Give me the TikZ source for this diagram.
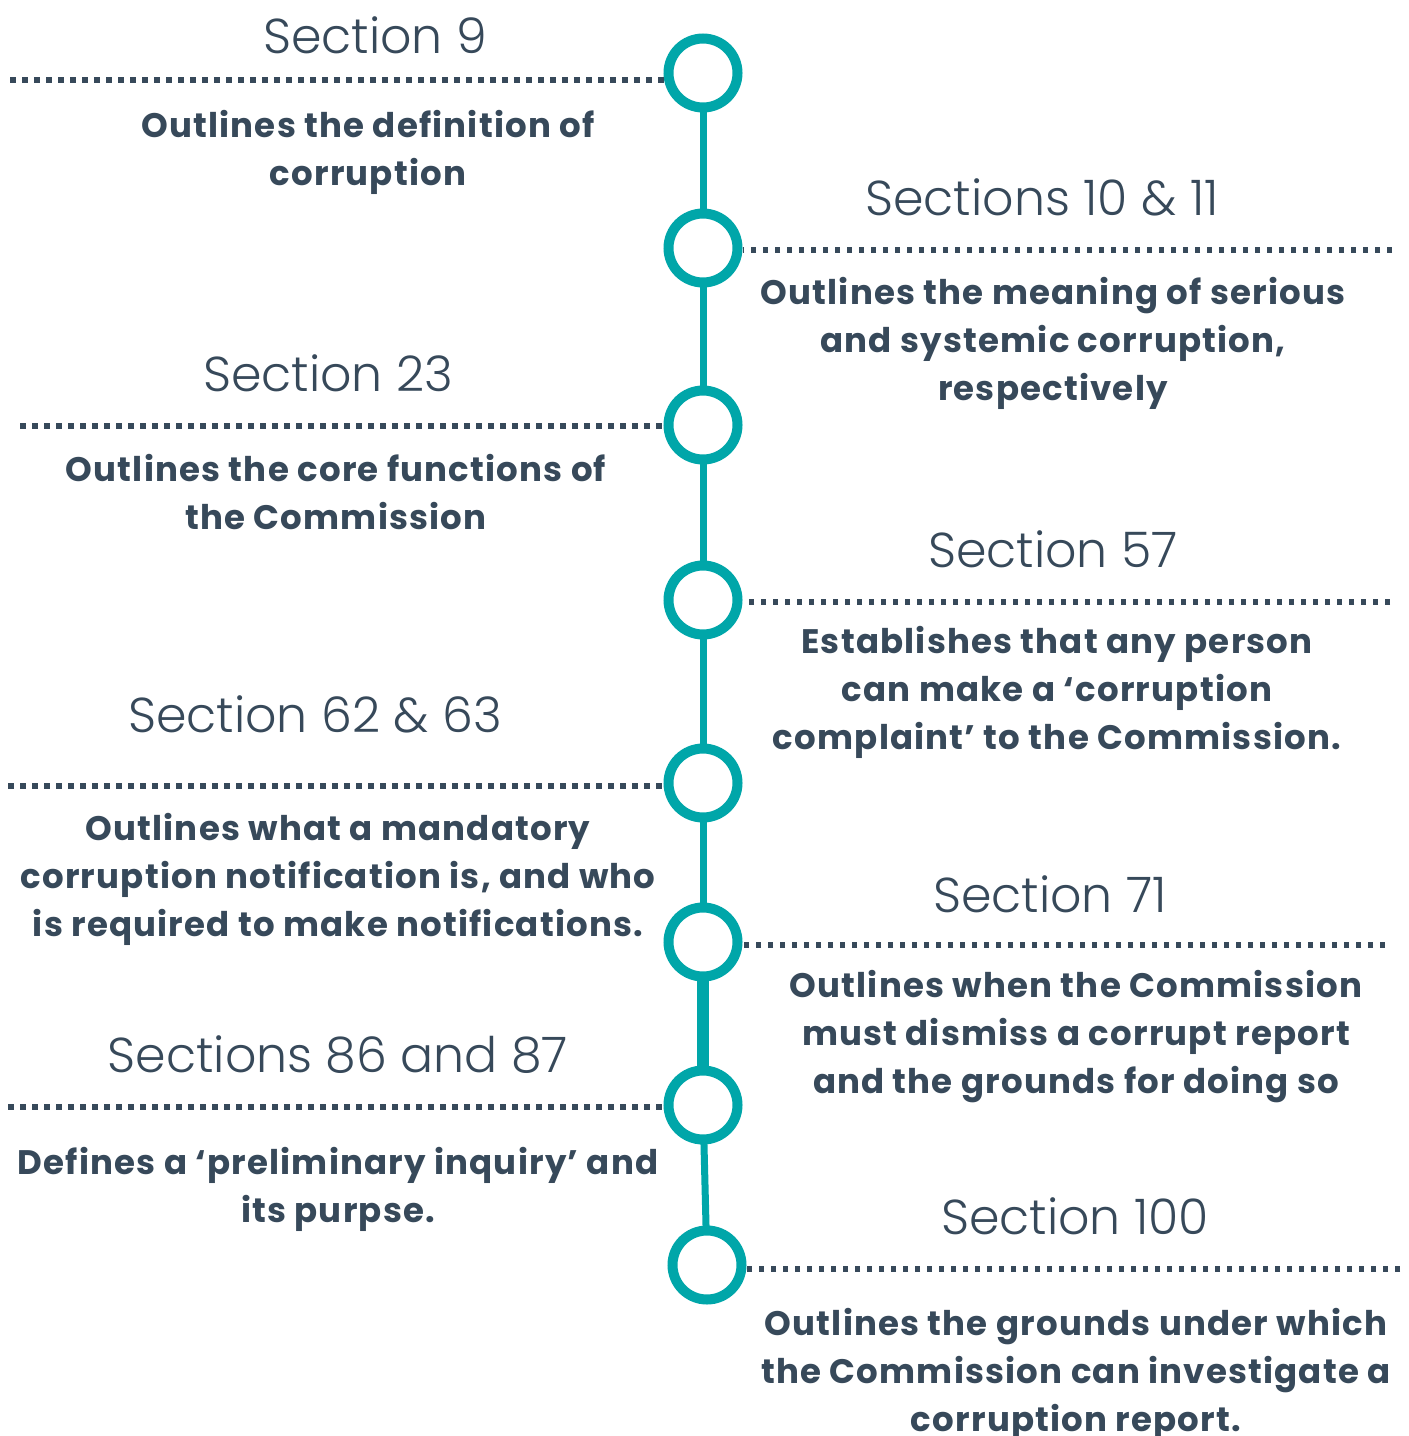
\documentclass[tikz,border=0pt]{standalone}
\usepackage{fontspec}
\setmainfont{Poppins}[LetterSpace=3.5]
\newfontfamily\headfont{Poppins}[UprightFont=* Light, LetterSpace=0]
\usetikzlibrary{calc}
\definecolor{teal}{HTML}{00A6A9}
\definecolor{ink}{HTML}{37495A}
\tikzset{
  ring/.style={circle, draw=teal, line width=10pt, fill=white, minimum size=69pt, inner sep=0pt},
  spine/.style={draw=teal, line width=7pt},
  dotline/.style={draw=ink, line width=5.5pt, dash pattern=on 5.5pt off 6.5pt},
  head/.style={text=ink, inner sep=0pt, font=\headfont\fontsize{49}{50}\selectfont},
  body/.style={text=ink, inner sep=0pt, align=center, font=\bfseries\fontsize{34}{48}\selectfont},
}
\begin{document}
\begin{tikzpicture}[x=1pt,y=-1pt]
\useasboundingbox (0,0) rectangle (1409,1436);
% spine
\coordinate (p1) at (703,73);
\coordinate (p2) at (703,248);
\coordinate (p3) at (703,425);
\coordinate (p4) at (703,600);
\coordinate (p5) at (703,783);
\coordinate (p6) at (703,942);
\coordinate (p7) at (703,1105);
\coordinate (p8) at (707,1265);
\draw[spine] (p1) -- (p2) -- (p3) -- (p4) -- (p5) -- (p6);
\draw[spine, line width=12pt] (p6) -- (p7);
\draw[spine] (p7) -- (p8);
\foreach \i in {1,...,8} { \node[ring] (c\i) at (p\i) {}; }
% dotted leaders
\coordinate (d1) at (10,80);
\coordinate (d2) at (1392,250);
\coordinate (d3) at (20,426);
\coordinate (d4) at (1390,602);
\coordinate (d5) at (8,786);
\coordinate (d6) at (1385,945);
\coordinate (d7) at (8,1107);
\coordinate (d8) at (1400,1269);
\draw[dotline] (d1) -- (c1.west |- d1);
\draw[dotline] (d2) -- (c2.east |- d2);
\draw[dotline] (d3) -- (c3.west |- d3);
\draw[dotline] (d4) -- (c4.east |- d4);
\draw[dotline] (d5) -- (c5.west |- d5);
\draw[dotline] (d6) -- (c6.east |- d6);
\draw[dotline] (d7) -- (c7.west |- d7);
\draw[dotline] (d8) -- (c8.east |- d8);
% texts
\node[head] (h1) at (375,35) {Section 9};
\node[body] (b1) at (368,152) {Outlines the definition of\\corruption};
\node[head] (h2) at (1042,197) {Sections 10 \& 11};
\node[body] (b2) at (1053,343) {Outlines the meaning of serious\\and systemic corruption,\\respectively};
\node[head] (h3) at (328,373) {Section 23};
\node[body] (b3) at (336,492) {Outlines the core functions of\\the Commission};
\node[head] (h4) at (1053,549) {Section 57};
\node[body] (b4) at (1057,692) {Establishes that any person\\can make a ‘corruption\\complaint’ to the Commission.};
\node[head] (h5) at (315,714) {Section 62 \& 63};
\node[body] (b5) at (338,879) {Outlines what a mandatory\\corruption notification is, and who\\is required to make notifications.};
\node[head] (h6) at (1050,894) {Section 71};
\node[body] (b6) at (1076,1037) {Outlines when the Commission\\must dismiss a corrupt report\\and the grounds for doing so};
\node[head] (h7) at (338,1055) {Sections 86 and 87};
\node[body] (b7) at (338,1189) {Defines a ‘preliminary inquiry’ and\\its purpse.};
\node[head] (h8) at (1075,1216) {Section 100};
\node[body] (b8) at (1076,1374) {Outlines the grounds under which\\the Commission can investigate a\\corruption report.};
\end{tikzpicture}
\end{document}
